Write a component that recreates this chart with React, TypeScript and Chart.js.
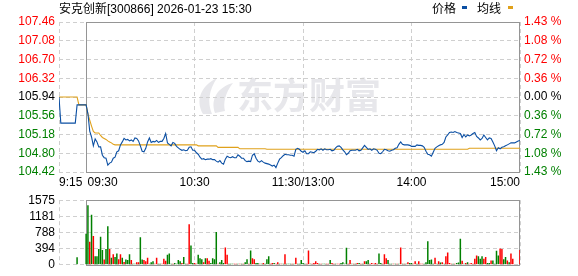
import React, { useEffect, useRef } from "react";
import { Chart, registerables } from "chart.js";

Chart.register(...registerables);

// ---------- text ----------
const titleText = "安克创新[300866] 2026-01-23 15:30";
const legendPriceText = "价格";
const legendAvgText = "均线";
const watermarkText = "东方财富";

// ---------- axes ----------
const prevClose = 105.94;
const priceTicks = [104.42, 104.8, 105.18, 105.56, 105.94, 106.32, 106.7, 107.08, 107.46];
const pctTickLabels = ["1.43 %", "1.08 %", "0.72 %", "0.36 %", "0.00 %", "0.36 %", "0.72 %", "1.08 %", "1.43 %"];
const volTicks = [0, 394, 788, 1181, 1575];
const volTickLabels = ["0", "394", "788", "1181", "1575"];
const timeTickValues = [-15, 0, 60, 120, 180, 240];
const timeTickLabels = ["9:15", "09:30", "10:30", "11:30/13:00", "14:00", "15:00"];

// ---------- pre-market (minutes before 09:30) ----------
const preMinutes = [-15, -14, -13, -12, -11, -10, -9, -8, -7, -6, -5, -4, -3, -2, -1];
const prePrice = [105.94, 105.41, 105.41, 105.41, 105.41, 105.41, 105.41, 105.41, 105.41, 105.41, 105.78, 105.78, 105.78, 105.78, 105.78];
const preAvg = [105.94, 105.94, 105.94, 105.94, 105.94, 105.94, 105.94, 105.94, 105.94, 105.94, 105.94, 105.78, 105.78, 105.78, 105.78];
const preVolume = [0, 0, 0, 0, 0, 0, 0, 0, 0, 0, 185, 0, 0, 0, 0];
const preVolumeUp = [0, 0, 0, 0, 0, 0, 0, 0, 0, 0, 0, 0, 0, 0, 0];

// ---------- trading session, one value per minute (09:30 .. 15:00) ----------
const price = [
  105.78, 105.60, 105.25, 105.13, 104.95, 105.09, 105.03, 104.93, 104.93, 104.76,
  104.71, 104.70, 104.56, 104.60, 104.62, 104.70, 104.72, 104.83, 104.85, 104.97,
  105.03, 105.10, 105.07, 105.08, 105.05, 105.07, 105.04, 105.11, 105.10, 105.05,
  104.95, 104.84, 104.83, 104.90, 105.03, 105.11, 105.02, 105.04, 105.03, 105.06,
  105.02, 105.04, 105.04, 105.10, 105.20, 105.01, 104.98, 104.95, 105.02,
  105.00, 104.94, 104.91, 104.88, 104.86, 104.87, 104.85, 104.86, 104.92, 104.93,
  104.86, 104.86, 104.81, 104.78, 104.72, 104.68, 104.69, 104.67, 104.68, 104.68,
  104.69, 104.67, 104.67, 104.64, 104.62, 104.65, 104.60, 104.58, 104.68, 104.74,
  104.72, 104.71, 104.73, 104.71, 104.71, 104.77, 104.74, 104.70, 104.70, 104.65,
  104.63, 104.64, 104.63, 104.76, 104.79, 104.70, 104.64, 104.62, 104.65, 104.62,
  104.60, 104.59, 104.58, 104.56, 104.54, 104.56, 104.51, 104.60, 104.68, 104.71,
  104.75, 104.78, 104.77, 104.77,
  104.76, 104.76, 104.74, 104.88, 104.90, 104.88, 104.84, 104.82, 104.85, 104.79,
  104.79, 104.83, 104.82, 104.81, 104.84, 104.88, 104.87, 104.89, 104.86, 104.89,
  104.87, 104.87, 104.88, 104.85, 104.86, 104.91, 104.94, 104.95, 104.92, 104.87,
  104.83, 104.77, 104.80, 104.85, 104.86, 104.86, 104.86, 104.88, 104.85, 104.86,
  104.91, 104.96, 104.92, 104.88, 104.89, 104.86, 104.89, 104.88, 104.86, 104.80,
  104.79, 104.83, 104.88, 104.87, 104.85, 104.84, 104.86, 104.87, 104.90, 104.91,
  104.98, 105.03, 104.98, 104.97, 104.97, 104.97, 104.96, 104.94, 104.94, 104.94,
  104.97, 104.96, 104.96, 104.95, 104.92, 104.84, 104.78, 104.77, 104.74, 104.82,
  104.90, 104.93, 104.95, 104.97, 104.98, 105.02, 105.13, 105.17, 105.22, 105.23,
  105.22, 105.24, 105.22, 105.21, 105.20, 105.12, 105.18, 105.13, 105.17, 105.15,
  105.17, 105.20, 105.22, 105.14, 105.11, 105.07, 105.10, 105.17, 105.12, 105.07,
  105.11, 105.10, 105.03, 104.95, 104.85, 104.91, 104.89, 104.92, 104.93, 104.95,
  104.97, 104.99, 105.01, 105.01, 105.01, 105.03, 105.05, 105.06,
];

const avgPrice = [
  105.78, 105.60, 105.47, 105.35, 105.24, 105.21, 105.21, 105.21, 105.16, 105.12,
  105.10, 105.08, 105.05, 105.03, 105.01, 104.98, 104.97, 104.97, 104.97, 104.97,
  104.97, 104.97, 104.97, 104.97, 104.97, 104.97, 104.97, 104.97, 104.97, 104.97,
  104.97, 104.97, 104.97, 104.97, 104.97, 104.97, 104.97, 104.97, 104.97, 104.97,
  104.97, 104.97, 104.97, 104.97, 104.97, 104.97, 104.97, 104.97, 104.97, 104.97,
  104.97, 104.97, 104.97, 104.97, 104.97, 104.97, 104.97, 104.97, 104.97, 104.97,
  104.97, 104.97, 104.95, 104.95, 104.95, 104.95, 104.95, 104.95, 104.95, 104.95,
  104.95, 104.95, 104.95, 104.92, 104.92, 104.92, 104.92, 104.92, 104.92, 104.92,
  104.92, 104.92, 104.92, 104.92, 104.92, 104.89, 104.89, 104.89, 104.89, 104.89,
  104.89, 104.89, 104.89, 104.89, 104.89, 104.89, 104.89, 104.89, 104.89, 104.89,
  104.88, 104.88, 104.88, 104.88, 104.88, 104.88, 104.88, 104.88, 104.88, 104.88,
  104.88, 104.88, 104.88, 104.88, 104.88, 104.88, 104.88, 104.88, 104.88, 104.88,
  104.88, 104.88, 104.88, 104.88, 104.88, 104.88, 104.88, 104.88, 104.88, 104.88,
  104.88, 104.88, 104.88, 104.88, 104.88, 104.88, 104.88, 104.88, 104.88, 104.88,
  104.88, 104.88, 104.88, 104.88, 104.88, 104.88, 104.88, 104.88, 104.88, 104.88,
  104.88, 104.88, 104.88, 104.88, 104.88, 104.88, 104.88, 104.88, 104.88, 104.88,
  104.88, 104.88, 104.88, 104.88, 104.88, 104.88, 104.88, 104.88, 104.88, 104.88,
  104.88, 104.88, 104.88, 104.88, 104.88, 104.88, 104.88, 104.88, 104.88, 104.88,
  104.88, 104.88, 104.88, 104.88, 104.88, 104.88, 104.88, 104.88, 104.88, 104.88,
  104.88, 104.88, 104.88, 104.88, 104.88, 104.88, 104.88, 104.88, 104.88, 104.88,
  104.88, 104.88, 104.88, 104.88, 104.88, 104.88, 104.88, 104.88, 104.88, 104.88,
  104.88, 104.88, 104.90, 104.90, 104.90, 104.90, 104.90, 104.90, 104.90, 104.90,
  104.90, 104.90, 104.90, 104.90, 104.90, 104.90, 104.90, 104.90, 104.90, 104.90,
  104.90, 104.90, 104.90, 104.90, 104.90, 104.90, 104.90, 104.90, 104.90, 104.90,
  104.90,
];

const volume = [
  755, 1454, 563, 1219, 705, 207, 207, 385, 684, 363,
  128, 385, 941, 385, 171, 257, 192, 278, 135, 257,
  171, 71, 128, 114, 257, 114, 28, 28, 64, 64,
  670, 128, 114, 86, 171, 28, 64, 86, 28, 171,
  28, 28, 28, 150, 100, 242, 278, 28, 28, 43,
  28, 114, 86, 43, 192, 28, 28, 991, 470, 43,
  43, 28, 242, 157, 135, 64, 157, 157, 100, 43,
  157, 135, 798, 28, 64, 114, 43, 420, 242, 28,
  28, 28, 28, 28, 28, 28, 28, 28, 64, 135,
  28, 349, 157, 135, 43, 43, 28, 28, 43, 28,
  135, 207, 28, 43, 43, 28, 64, 28, 28, 28,
  257, 28, 28, 28, 28, 28, 171, 28, 28,
  114, 43, 28, 28, 349, 28, 28, 43, 86, 43,
  28, 28, 28, 28, 28, 28, 114, 43, 28, 28,
  28, 28, 43, 64, 28, 413, 28, 114, 28, 28,
  28, 43, 43, 28, 28, 86, 86, 114, 28, 43,
  28, 43, 28, 278, 43, 28, 257, 157, 114, 28,
  28, 28, 28, 28, 28, 420, 28, 28, 28, 64,
  43, 43, 28, 86, 28, 86, 28, 28, 28, 64,
  577, 114, 128, 28, 171, 28, 86, 57, 64, 28,
  207, 299, 43, 28, 28, 28, 43, 57, 634, 100,
  28, 43, 64, 28, 43, 28, 150, 228, 207, 150,
  207, 150, 192, 43, 43, 107, 107, 28, 342, 228,
  399, 385, 135, 192, 107, 64, 278, 150, 0, 0,
  0, 363,
];

// 1 = price up in that minute (red bar), 0 = down (green bar)
const volumeUp = [
  0, 0, 1, 0, 1, 0, 0, 0, 0, 0,
  1, 0, 0, 1, 0, 1, 0, 0, 1, 1,
  0, 1, 0, 0, 0, 1, 0, 0, 1, 1,
  0, 0, 1, 1, 1, 0, 0, 0, 1, 1,
  0, 0, 1, 1, 1, 0, 0, 0, 1, 0,
  0, 0, 0, 1, 0, 0, 1, 1, 0, 0,
  1, 1, 0, 0, 0, 1, 0, 1, 1, 0,
  0, 0, 0, 1, 0, 0, 0, 1, 1, 0,
  0, 0, 1, 1, 0, 1, 0, 1, 0, 0,
  1, 0, 1, 1, 0, 0, 1, 0, 1, 0,
  0, 0, 1, 1, 0, 1, 1, 0, 1, 0,
  1, 0, 0, 0, 1, 0, 1, 0, 0,
  0, 0, 0, 1, 1, 0, 1, 1, 1, 1,
  0, 1, 0, 0, 1, 1, 0, 1, 1, 0,
  1, 1, 0, 0, 0, 0, 1, 1, 0, 1,
  0, 1, 0, 1, 0, 1, 0, 0, 1, 1,
  1, 1, 1, 0, 0, 1, 1, 1, 0, 0,
  0, 1, 0, 1, 0, 1, 0, 1, 0, 1,
  0, 0, 1, 1, 0, 1, 1, 1, 0, 0,
  0, 0, 0, 0, 1, 0, 1, 0, 1, 0,
  1, 1, 1, 1, 0, 1, 0, 0, 0, 1,
  0, 1, 0, 1, 1, 1, 1, 1, 0, 0,
  0, 1, 1, 0, 0, 1, 0, 0, 0, 0,
  1, 1, 0, 0, 1, 0, 1, 1, 1, 1,
  1, 1,
];

// ---------- styles ----------
const RED = "#ff0000";
const GREEN = "#008000";
const BLUE = "#0b4fa3";
const ORANGE = "#e0a11b";
const GRID = "#cfcfcf";
const FRAME = "#959595";
const FONT = '"Liberation Sans", Arial, sans-serif';

const tickColor = (v: number) =>
  v > prevClose + 1e-6 ? RED : v < prevClose - 1e-6 ? GREEN : "#000000";

const framePlugin = {
  id: "frame",
  beforeDatasetsDraw(chart: any) {
    const { ctx, chartArea } = chart;
    const xs = chart.scales.x;
    const x0 = Math.round(xs.getPixelForValue(0));
    const x1 = Math.round(xs.getPixelForValue(240));
    const t = Math.round(chartArea.top);
    const b = Math.round(chartArea.bottom);
    ctx.save();
    ctx.strokeStyle = FRAME;
    ctx.lineWidth = 1;
    ctx.setLineDash([]);
    ctx.strokeRect(x0 + 0.5, t + 0.5, x1 - x0 - 1, b - t);
    ctx.restore();
  },
};

const priceDecorPlugin = {
  id: "priceDecor",
  beforeDraw(chart: any) {
    const ctx = chart.ctx;
    ctx.save();
    ctx.fillStyle = "#e7e7eb";
    // emblem
    ctx.beginPath();
    ctx.moveTo(203, 114);
    ctx.bezierCurveTo(195, 100, 201, 86, 217, 78);
    ctx.bezierCurveTo(209, 90, 207, 102, 212, 114);
    ctx.closePath();
    ctx.fill();
    ctx.beginPath();
    ctx.moveTo(215, 113);
    ctx.bezierCurveTo(210, 99, 218, 87, 233, 83);
    ctx.bezierCurveTo(225, 93, 223, 103, 225, 111);
    ctx.closePath();
    ctx.fill();
    // text
    ctx.font = 'bold 36px "Noto Sans CJK SC", sans-serif';
    ctx.textAlign = "left";
    ctx.textBaseline = "alphabetic";
    ctx.fillText(watermarkText, 237, 109);
    ctx.restore();
  },
  afterDraw(chart: any) {
    const { ctx, chartArea } = chart;
    const xs = chart.scales.x;
    ctx.save();
    ctx.font = "12px " + FONT;
    ctx.fillStyle = "#000000";
    ctx.textBaseline = "alphabetic";
    timeTickValues.forEach((v, i) => {
      let x = xs.getPixelForValue(v);
      let align: CanvasTextAlign = "center";
      if (i === 0) align = "left";
      if (i === 1) {
        align = "left";
        x += 1.5;
      }
      if (i === timeTickValues.length - 1) align = "right";
      ctx.textAlign = align;
      ctx.fillText(timeTickLabels[i], x, chartArea.bottom + 14);
    });
    ctx.restore();
  },
};

export default function App() {
  const priceRef = useRef<HTMLCanvasElement>(null);
  const volRef = useRef<HTMLCanvasElement>(null);

  useEffect(() => {
    const priceData = [
      ...preMinutes.map((m, i) => ({ x: m, y: prePrice[i] })),
      ...price.map((v, i) => ({ x: i, y: v })),
    ];
    const avgData = [
      ...preMinutes.map((m, i) => ({ x: m, y: preAvg[i] })),
      ...avgPrice.map((v, i) => ({ x: i, y: v })),
    ];
    const volData = [
      ...preMinutes.map((m, i) => ({ x: m, y: preVolume[i] })),
      ...volume.map((v, i) => ({ x: i, y: v })),
    ];
    const volColors = [...preVolumeUp, ...volumeUp].map((u) => (u ? RED : GREEN));

    const xScale = (height: number) => ({
      type: "linear",
      min: -15,
      max: 240,
      offset: false,
      position: "bottom",
      grid: { color: GRID, drawTicks: false, lineWidth: 1, offset: false },
      border: { display: false, dash: [4, 3] },
      ticks: { display: false },
      afterBuildTicks: (s: any) => {
        s.ticks = timeTickValues.map((v) => ({ value: v }));
      },
      afterFit: (s: any) => {
        s.height = height;
      },
    });

    const c1 = new Chart(priceRef.current as HTMLCanvasElement, {
      type: "line",
      data: {
        datasets: [
          { data: priceData, borderColor: BLUE, borderWidth: 1.1, pointRadius: 0, tension: 0, fill: false },
          { data: avgData, borderColor: ORANGE, borderWidth: 1.1, pointRadius: 0, tension: 0, fill: false },
        ],
      },
      options: {
        animation: false,
        responsive: false,
        devicePixelRatio: 1,
        events: [],
        layout: { padding: { top: 22, left: 0, right: 0, bottom: 0 } },
        plugins: { legend: { display: false }, tooltip: { enabled: false } },
        scales: {
          x: xScale(17) as any,
          y: {
            type: "linear",
            position: "left",
            min: priceTicks[0],
            max: priceTicks[priceTicks.length - 1],
            grid: { color: GRID, drawTicks: false, lineWidth: 1 },
            border: { display: false, dash: [4, 3] },
            ticks: {
              padding: 4,
              font: { family: FONT, size: 12 },
              color: (c: any) => tickColor(c.tick.value),
              callback: (v: any) => Number(v).toFixed(2),
            },
            afterBuildTicks: (s: any) => {
              s.ticks = priceTicks.map((v) => ({ value: v }));
            },
            afterFit: (s: any) => {
              s.width = 59;
            },
          },
          yPct: {
            type: "linear",
            position: "right",
            min: priceTicks[0],
            max: priceTicks[priceTicks.length - 1],
            grid: { display: false, drawTicks: false },
            border: { display: false },
            ticks: {
              padding: 4,
              font: { family: FONT, size: 12 },
              color: (c: any) => tickColor(c.tick.value),
              callback: (_v: any, i: number) => pctTickLabels[i],
            },
            afterBuildTicks: (s: any) => {
              s.ticks = priceTicks.map((v) => ({ value: v }));
            },
            afterFit: (s: any) => {
              s.width = 58;
            },
          },
        },
      } as any,
      plugins: [priceDecorPlugin, framePlugin],
    });

    const c2 = new Chart(volRef.current as HTMLCanvasElement, {
      type: "bar",
      data: {
        datasets: [
          {
            data: volData,
            backgroundColor: volColors,
            borderWidth: 0,
            barThickness: 1.5,
            inflateAmount: 0,
          },
        ],
      },
      options: {
        animation: false,
        responsive: false,
        devicePixelRatio: 1,
        events: [],
        layout: { padding: { top: 7, left: 0, right: 58, bottom: 0 } },
        plugins: { legend: { display: false }, tooltip: { enabled: false } },
        scales: {
          x: xScale(6) as any,
          y: {
            type: "linear",
            position: "left",
            min: 0,
            max: volTicks[volTicks.length - 1],
            grid: { color: GRID, drawTicks: false, lineWidth: 1 },
            border: { display: false, dash: [4, 3] },
            ticks: {
              padding: 4,
              font: { family: FONT, size: 12 },
              color: "#000000",
              callback: (_v: any, i: number) => volTickLabels[i],
            },
            afterBuildTicks: (s: any) => {
              s.ticks = volTicks.map((v) => ({ value: v }));
            },
            afterFit: (s: any) => {
              s.width = 59;
            },
          },
        },
      } as any,
      plugins: [framePlugin],
    });

    return () => {
      c1.destroy();
      c2.destroy();
    };
  }, []);

  const textStyle: React.CSSProperties = {
    position: "absolute",
    top: 2,
    fontFamily: '"Liberation Sans", "Noto Sans CJK SC", sans-serif',
    fontSize: 12,
    lineHeight: "14px",
    whiteSpace: "nowrap",
    color: "#000",
  };

  return (
    <div
      style={{
        position: "fixed",
        left: 0,
        top: 0,
        width: 578,
        height: 276,
        background: "#fff",
        overflow: "hidden",
      }}
    >
      <canvas
        ref={priceRef}
        width={578}
        height={189}
        style={{ position: "absolute", left: 0, top: 0, width: 578, height: 189 }}
      />
      <canvas
        ref={volRef}
        width={578}
        height={87}
        style={{ position: "absolute", left: 0, top: 189, width: 578, height: 87 }}
      />
      <div style={{ ...textStyle, left: 59 }}>{titleText}</div>
      <div style={{ ...textStyle, left: 432 }}>{legendPriceText}</div>
      <div style={{ position: "absolute", left: 462, top: 6, width: 5, height: 3, background: BLUE }} />
      <div style={{ ...textStyle, left: 477 }}>{legendAvgText}</div>
      <div style={{ position: "absolute", left: 508, top: 6, width: 5, height: 3, background: ORANGE }} />
    </div>
  );
}
